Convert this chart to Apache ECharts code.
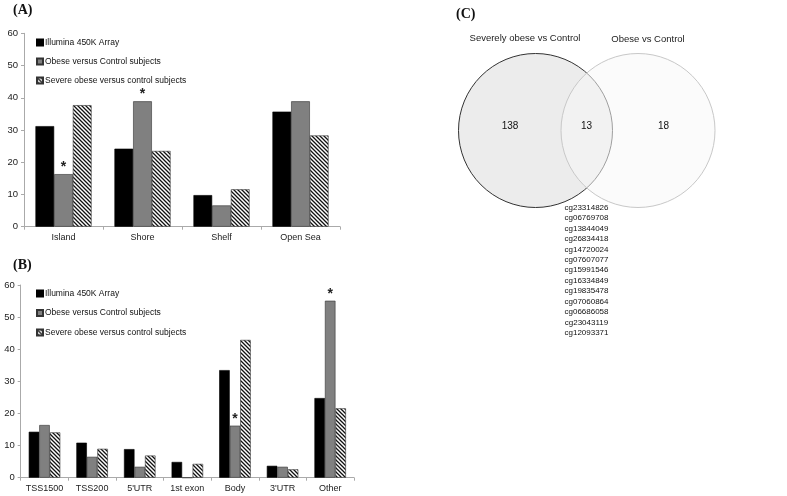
<!DOCTYPE html>
<html>
<head>
<meta charset="utf-8">
<script src="https://cdn.jsdelivr.net/npm/echarts@6/dist/echarts.min.js"></script>
<style>html,body{margin:0;padding:0;background:#fff;}#c{width:787px;height:496px;}</style>
</head>
<body>
<div id="c"></div>
<script>
// ---- Data ----
var catsA = ['Island', 'Shore', 'Shelf', 'Open Sea'];
var arrayA = [31.2, 24.2, 9.8, 35.7];
var obeseA = [16.3, 38.9, 6.6, 38.9];
var severeA = [37.7, 23.5, 11.6, 28.3];
var obeseSigA = [true, true, false, false];

var catsB = ['TSS1500', 'TSS200', "5'UTR", '1st exon', 'Body', "3'UTR", 'Other'];
var arrayB = [14.3, 10.9, 8.9, 4.9, 33.5, 3.7, 24.8];
var obeseB = [16.4, 6.5, 3.4, 0, 16.2, 3.4, 55.1];
var severeB = [14.1, 9.0, 6.9, 4.3, 42.9, 2.6, 21.6];
var obeseSigB = [false, false, false, false, true, false, true];

var yTicks = [0, 10, 20, 30, 40, 50, 60];
var seriesNames = ['Illumina 450K Array', 'Obese versus Control subjects', 'Severe obese versus control subjects'];

var vennLabels = ['Severely obese vs Control', 'Obese vs Control'];
var vennCounts = [138, 13, 18];
var sharedProbes = ['cg23314826','cg06769708','cg13844049','cg26834418','cg14720024','cg07607077','cg15991546','cg16334849','cg19835478','cg07060864','cg06686058','cg23043119','cg12093371'];

// ---- Hatch pattern ----
var pc = document.createElement('canvas');
var s = 4;
pc.width = s; pc.height = s;
var px = pc.getContext('2d');
px.fillStyle = '#fff'; px.fillRect(0, 0, s, s);
px.strokeStyle = '#111'; px.lineWidth = 1.3;
px.beginPath();
px.moveTo(-1, -1); px.lineTo(s + 1, s + 1);
px.moveTo(-s - 1, -1); px.lineTo(1, s + 1);
px.moveTo(s - 1, -1); px.lineTo(2 * s + 1, s + 1);
px.stroke();
var hatch = { image: pc, repeat: 'repeat' };

var font = 'Liberation Sans';
var chart = echarts.init(document.getElementById('c'));

function makeBars(names, arr, obs, sev, sig, idx, bw) {
  return [
    { name: names[0], type: 'bar', xAxisIndex: idx, yAxisIndex: idx, barWidth: bw, barGap: '0%',
      data: arr, itemStyle: { color: '#000', borderColor: '#000', borderWidth: 0.6 } },
    { name: names[1], type: 'bar', xAxisIndex: idx, yAxisIndex: idx, barWidth: bw, barGap: '0%',
      data: obs.map(function (v, i) {
        return { value: v, label: { show: sig[i], formatter: '*', position: 'top', distance: 0,
          fontSize: 14, fontWeight: 'bold', color: '#222', fontFamily: font } };
      }),
      itemStyle: { color: '#808080', borderColor: '#333', borderWidth: 0.6 } },
    { name: names[2], type: 'bar', xAxisIndex: idx, yAxisIndex: idx, barWidth: bw, barGap: '0%',
      data: sev, itemStyle: { color: hatch, borderColor: '#333', borderWidth: 0.6 } }
  ];
}

function xAx(cats, idx) {
  return { type: 'category', gridIndex: idx, data: cats,
    axisLine: { lineStyle: { color: '#aaa', width: 1 } },
    axisTick: { show: true, length: 3, interval: 0, lineStyle: { color: '#aaa' } },
    axisLabel: { color: '#222', fontSize: 9, fontFamily: font, margin: 6, interval: 0, hideOverlap: false } };
}
function yAx(idx) {
  return { type: 'value', gridIndex: idx, min: yTicks[0], max: yTicks[yTicks.length - 1], interval: 10,
    axisLine: { show: true, lineStyle: { color: '#aaa', width: 1 } },
    axisTick: { show: true, length: 3, lineStyle: { color: '#aaa' } },
    splitLine: { show: false },
    axisLabel: { color: '#222', fontSize: 9.5, fontFamily: font, margin: 6 } };
}

var graphics = [
  { type: 'text', left: 13, top: 3, style: { text: '(A)', font: 'bold 14px "Liberation Serif"', fill: '#111' } },
  { type: 'text', left: 13, top: 258, style: { text: '(B)', font: 'bold 14px "Liberation Serif"', fill: '#111' } },
  { type: 'text', left: 456, top: 7, style: { text: '(C)', font: 'bold 14px "Liberation Serif"', fill: '#111' } },
  // Venn circles
  { type: 'circle', shape: { cx: 535.5, cy: 130.5, r: 77 }, style: { fill: '#ececec', stroke: '#333', lineWidth: 1 }, z: 1 },
  { type: 'circle', shape: { cx: 638, cy: 130.5, r: 77 }, style: { fill: 'rgba(248,248,248,0.55)', stroke: '#c8c8c8', lineWidth: 1 }, z: 2 },
  { type: 'text', x: 525, y: 38, style: { text: vennLabels[0], font: '9.5px "Liberation Sans"', fill: '#222', textAlign: 'center', textVerticalAlign: 'middle' }, z: 3 },
  { type: 'text', x: 648, y: 39, style: { text: vennLabels[1], font: '9.5px "Liberation Sans"', fill: '#222', textAlign: 'center', textVerticalAlign: 'middle' }, z: 3 },
  { type: 'text', x: 510, y: 126, style: { text: String(vennCounts[0]), font: '10px "Liberation Sans"', fill: '#111', textAlign: 'center', textVerticalAlign: 'middle' }, z: 3 },
  { type: 'text', x: 586.5, y: 126, style: { text: String(vennCounts[1]), font: '10px "Liberation Sans"', fill: '#111', textAlign: 'center', textVerticalAlign: 'middle' }, z: 3 },
  { type: 'text', x: 663.5, y: 126, style: { text: String(vennCounts[2]), font: '10px "Liberation Sans"', fill: '#111', textAlign: 'center', textVerticalAlign: 'middle' }, z: 3 }
];
sharedProbes.forEach(function (p, i) {
  graphics.push({ type: 'text', x: 586.5, y: 207.5 + i * 10.45,
    style: { text: p, font: '8px "Liberation Sans"', fill: '#111', textAlign: 'center', textVerticalAlign: 'middle' }, z: 3 });
});

var legendBase = { orient: 'vertical', itemWidth: 6, itemHeight: 6, itemGap: 10, icon: 'rect',
  textStyle: { fontSize: 8.5, fontFamily: font, color: '#111', padding: [0, 0, 0, -3] } };

chart.setOption({
  animation: false,
  backgroundColor: '#fff',
  grid: [
    { left: 24, right: 447, top: 33.3, bottom: 269.3, containLabel: false },
    { left: 20.7, right: 433, top: 285, bottom: 18.3, containLabel: false }
  ],
  xAxis: [xAx(catsA, 0), xAx(catsB, 1)],
  yAxis: [yAx(0), yAx(1)],
  legend: [
    Object.assign({}, legendBase, { left: 31, top: 33, data: seriesNames.map(function(n){return n;}) }),
    Object.assign({}, legendBase, { left: 31, top: 284, itemGap: 10.5, data: seriesNames.map(function(n){return n + ' ';}) })
  ],
  series: makeBars(seriesNames, arrayA, obeseA, severeA, obeseSigA, 0, 18.7)
    .concat(makeBars(seriesNames.map(function(n){return n + ' ';}), arrayB, obeseB, severeB, obeseSigB, 1, 10.5)),
  graphic: graphics
});
</script>
</body>
</html>
